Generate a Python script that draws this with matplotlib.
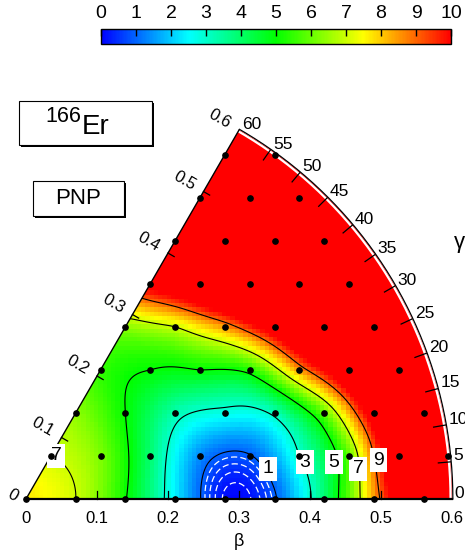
import numpy as np
import matplotlib
matplotlib.use('Agg')
import matplotlib.pyplot as plt
from matplotlib.colors import LinearSegmentedColormap, Normalize
from matplotlib.cm import ScalarMappable
from matplotlib.patches import Wedge, Rectangle

plt.rcParams['font.family'] = ['Liberation Sans', 'DejaVu Sans']

mass_number = '166'
element = 'Er'
method = 'PNP'

# triangular mesh in (beta cos g, beta sin g), spacing in beta units
step = 0.07
beta_max = 0.6

# energies (MeV) at the mesh points, one list per row, starting on the gamma = 0 axis
energy_rows = [
    [7.7, 7.0, 5.05, 2.4, 0.15, 0.9, 3.9, 8.4, 13.0],
    [7.05, 6.2, 3.9, 1.4, 0.95, 3.0, 6.0, 12.0, 16.0],
    [6.4, 5.0, 3.3, 2.75, 3.2, 5.9, 11.0, 15.0],
    [5.5, 5.0, 5.0, 5.3, 8.5, 12.0, 16.0],
    [6.4, 7.0, 8.5, 11.0, 14.0, 17.0],
    [10.5, 12.0, 14.0, 16.0, 18.0],
    [13.0, 14.0, 16.0, 18.0],
    [15.0, 16.0, 18.0],
    [17.0, 18.0],
]

line_levels = [1, 3, 5, 7, 9]
dash_levels = [0.2, 0.4, 0.6, 0.8]
cbar_ticks = list(range(0, 11))
beta_ticks = [0, 0.1, 0.2, 0.3, 0.4, 0.5, 0.6]
gamma_ticks = list(range(0, 65, 5))

# contour labels: (level, x, y)
contour_tags = [(7, 0.0423, 0.0606), (1, 0.3408, 0.0423), (3, 0.3930, 0.0521),
                (5, 0.4338, 0.0521), (7, 0.4676, 0.0423), (9, 0.4958, 0.0549)]

pes_cmap = LinearSegmentedColormap.from_list(
    'pes', ['#0000ff', '#00ffff', '#00ff00', '#ffff00', '#ff0000'])
norm = Normalize(vmin=0, vmax=10)

# mesh points
px, py, pz = [], [], []
for j, row in enumerate(energy_rows):
    for k, e in enumerate(row):
        px.append(step * (k + 0.5 * j))
        py.append(step * j * np.sqrt(3) / 2)
        pz.append(e)
px, py, pz = np.array(px), np.array(py), np.array(pz)


# thin-plate spline through the mesh values
def _tps_kernel(d):
    with np.errstate(divide='ignore', invalid='ignore'):
        k = d ** 2 * np.log(d)
    return np.nan_to_num(k)


n = len(px)
K = _tps_kernel(np.hypot(px[:, None] - px[None, :], py[:, None] - py[None, :]))
P = np.column_stack([np.ones(n), px, py])
A = np.zeros((n + 3, n + 3))
A[:n, :n] = K
A[:n, n:] = P
A[n:, :n] = P.T
coef = np.linalg.solve(A, np.concatenate([pz, np.zeros(3)]))
w, a = coef[:n], coef[n:]


def energy(x, y):
    shp = x.shape
    x, y = x.ravel(), y.ravel()
    out = a[0] + a[1] * x + a[2] * y
    for i0 in range(0, len(x), 20000):
        sl = slice(i0, i0 + 20000)
        d = np.hypot(x[sl, None] - px[None, :], y[sl, None] - py[None, :])
        out[sl] += _tps_kernel(d) @ w
    return out.reshape(shp)


fig = plt.figure(figsize=(4.65, 5.53), dpi=100)
ax = fig.add_axes([0, 0, 1, 1])
ax.set_xlim(-26 / 710, 439 / 710)
ax.set_ylim(-54 / 710, 499 / 710)
ax.axis('off')

wedge = Wedge((0, 0), beta_max, 0, 60, transform=ax.transData)

# coloured surface on a coarse square grid
cell = 0.006
edges = np.arange(-cell, beta_max + 2 * cell, cell)
cen = 0.5 * (edges[1:] + edges[:-1])
XC, YC = np.meshgrid(cen, cen)
mesh = ax.pcolormesh(edges, edges, energy(XC, YC), cmap=pes_cmap, norm=norm,
                     shading='flat', zorder=1)
mesh.set_clip_path(wedge)

# contour lines on a finer grid
fine = np.linspace(-0.002, beta_max + 0.002, 300)
XF, YF = np.meshgrid(fine, fine)
ZF = energy(XF, YF)
cs = ax.contour(XF, YF, ZF, levels=line_levels, colors='black', linewidths=0.8, zorder=2)
cs.set_clip_path(wedge)
cd = ax.contour(XF, YF, ZF, levels=dash_levels, colors='white', linewidths=0.9,
                linestyles=[(0, (5, 2.5))], zorder=2)
cd.set_clip_path(wedge)

# frame of the sextant
g = np.linspace(0, np.pi / 3, 300)
ax.plot((beta_max - 0.002) * np.cos(g), (beta_max - 0.002) * np.sin(g),
        color='white', lw=1.6, zorder=3)
ax.plot((beta_max + 0.0012) * np.cos(g), (beta_max + 0.0012) * np.sin(g),
        color='black', lw=0.9, zorder=3)
ax.plot([0, beta_max * 0.5], [0, beta_max * np.sqrt(3) / 2], color='black', lw=1.0, zorder=3)
ax.plot([0, beta_max], [0, 0], color='black', lw=1.6, zorder=3)

# ticks on the edges
for b in beta_ticks[1:-1]:
    ax.plot([b, b], [0, 0.011], color='black', lw=0.9, zorder=3)
    ex, ey = b * 0.5, b * np.sqrt(3) / 2
    ax.plot([ex, ex + 0.010 * np.sqrt(3) / 2], [ey, ey - 0.010 * 0.5],
            color='black', lw=0.9, zorder=3)
for gd in gamma_ticks[1:-1]:
    gr = np.radians(gd)
    ax.plot([beta_max * np.cos(gr), (beta_max - 0.017) * np.cos(gr)],
            [beta_max * np.sin(gr), (beta_max - 0.017) * np.sin(gr)],
            color='black', lw=0.9, zorder=3)

# mesh points
ax.plot(px, py, 'o', color='black', markersize=3.8, zorder=6)

for lev, x, y in contour_tags:
    ax.text(x, y, '%d' % lev, fontsize=14, ha='center', va='center', zorder=5,
            bbox=dict(boxstyle='square,pad=0.16', fc='white', ec='none'))

# beta labels, bottom and along the gamma = 60 edge
for b in beta_ticks:
    lab = '0' if b == 0 else '%.1f' % b
    ax.text(b, -0.0268, lab, fontsize=12, ha='center', va='center')
    off = 0.031 if b > 0 else 0.022
    ax.text(b * 0.5 - off * np.sqrt(3) / 2, b * np.sqrt(3) / 2 + off * 0.5 - (0.006 if b == 0 else 0),
            lab, fontsize=12, rotation=-30,
            ha='center', va='center', rotation_mode='anchor')

for gd in gamma_ticks:
    gr = np.radians(gd)
    ax.annotate('%d' % gd, (beta_max * np.cos(gr), beta_max * np.sin(gr)),
                xytext=(2, 1), textcoords='offset points', fontsize=12.5,
                ha='left', va='baseline')

ax.text(0.6099, 0.3606, 'γ', fontsize=16, ha='center', va='center')
ax.text(0.30, -0.0592, 'β', fontsize=13, ha='center', va='center')

# title boxes with a drop shadow
def shadow_box(x0, y0, x1, y1):
    d = 2 / 710
    ax.add_patch(Rectangle((x0 + d, y0 - d), x1 - x0, y1 - y0, fc='black', ec='none', zorder=7))
    ax.add_patch(Rectangle((x0, y0), x1 - x0, y1 - y0, fc='white', ec='black', lw=0.8, zorder=8))


shadow_box(-7 / 710, 354 / 710, 126 / 710, 398 / 710)
ax.text(55 / 710, 377 / 710, mass_number, fontsize=15.5, ha='right', va='baseline', zorder=9)
ax.text(56 / 710, 365 / 710, element, fontsize=20, ha='left', va='baseline', zorder=9)

shadow_box(7 / 710, 283 / 710, 98 / 710, 318 / 710)
ax.text(52.5 / 710, 300.5 / 710, method, fontsize=16, ha='center', va='center', zorder=9)

# colour scale
cax = fig.add_axes([101 / 465, 1 - 44 / 553, 350 / 465, 15 / 553])
cb = fig.colorbar(ScalarMappable(norm=norm, cmap=pes_cmap), cax=cax,
                  orientation='horizontal', ticks=cbar_ticks)
cb.ax.xaxis.set_ticks_position('top')
cb.ax.xaxis.set_label_position('top')
cb.ax.tick_params(direction='in', length=5, width=1, labelsize=14, pad=5)
cb.outline.set_linewidth(1.0)

fig.savefig('out.png', dpi=100)
